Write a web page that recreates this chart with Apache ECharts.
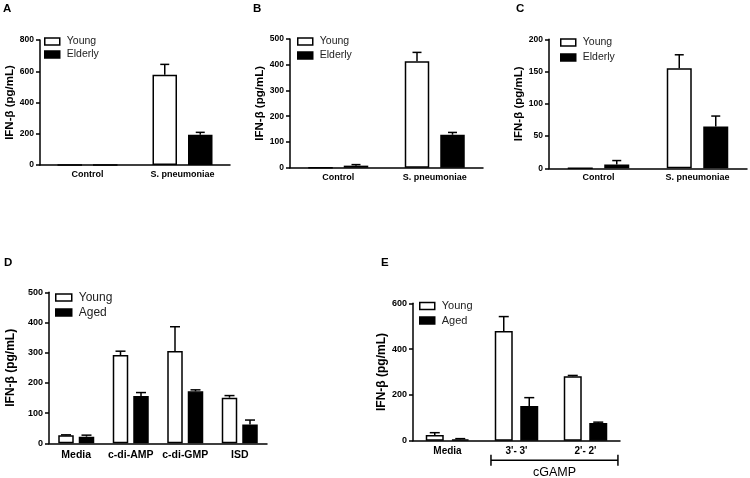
<!DOCTYPE html>
<html>
<head>
<meta charset="utf-8">
<script src="https://cdn.jsdelivr.net/npm/echarts@6/dist/echarts.min.js"></script>
<style>
html,body{margin:0;padding:0;background:#fff;}
#c{width:750px;height:478px;}
</style>
</head>
<body>
<div id="c"></div>
<script>
// ---- data ----
const catsAC = ['Control', 'S. pneumoniae'];
const youngA = [0, 578];   const youngAErr = [0, 66];
const elderA = [0, 194];   const elderAErr = [0, 15];
const youngB = [0, 414];   const youngBErr = [0, 34];
const elderB = [8, 128];   const elderBErr = [4, 9];
const youngC = [0, 155];   const youngCErr = [0, 21];
const elderC = [6, 65];    const elderCErr = [6, 16];

const catsD = ['Media', 'c-di-AMP', 'c-di-GMP', 'ISD'];
const youngD = [27, 292, 306, 151]; const youngDErr = [1, 13, 80, 7];
const agedD = [22, 157, 172, 62];   const agedDErr = [5, 11, 5, 15];

const catsE = ['Media', "3'- 3'", "2'- 2'"];
const youngE = [25, 479, 281]; const youngEErr = [10, 63, 4];
const agedE = [6, 151, 77];    const agedEErr = [3, 37, 4];

const yMax = [800, 500, 200, 500, 600];
const yStep = [200, 100, 50, 100, 200];
const panelLetters = ['A', 'B', 'C', 'D', 'E'];
const yTitle = 'IFN-\u03b2 (pg/mL)';

// ---- layout ----
const FONT = '"Liberation Sans", Arial, sans-serif';
const grids = [
  {left: 40, top: 40, width: 190, height: 125},
  {left: 290, top: 39, width: 193, height: 128.7},
  {left: 549, top: 39.3, width: 198, height: 129},
  {left: 49, top: 292.3, width: 218, height: 151},
  {left: 413, top: 303.3, width: 207, height: 137.4}
];
const barW = [24.5, 24.5, 25, 15.5, 18];
const gapPx = [11, 11, 11.5, 5, 7.5];
const tickFont = [8.5, 8.5, 8.5, 9, 9];
const catFont = [9, 9, 9, 10.5, 10];
const catMargin = [5, 5, 5, 6, 6];
const titleFont = [11.5, 11.5, 11.5, 12, 12];
const titleGap = [24, 24, 24, 32, 25];
const legendPos = [
  {left: 44, top: 36, fs: 10.5, iw: 15, ih: 7, gap: 2, names: ['Young', 'Elderly']},
  {left: 297, top: 36, fs: 10.5, iw: 15, ih: 7, gap: 3, names: ['Young', 'Elderly']},
  {left: 560, top: 37, fs: 10.5, iw: 15, ih: 7, gap: 4, names: ['Young', 'Elderly']},
  {left: 55, top: 291.5, fs: 12, iw: 16, ih: 7, gap: 3, names: ['Young', 'Aged']},
  {left: 419, top: 300.5, fs: 11, iw: 15, ih: 7, gap: 3.5, names: ['Young', 'Aged']}
];
const letterPos = [[3, 3], [253, 3], [516, 3], [4, 257], [381, 257]];

const panels = [
  {cats: catsAC, y: youngA, ye: youngAErr, o: elderA, oe: elderAErr},
  {cats: catsAC, y: youngB, ye: youngBErr, o: elderB, oe: elderBErr},
  {cats: catsAC, y: youngC, ye: youngCErr, o: elderC, oe: elderCErr},
  {cats: catsD, y: youngD, ye: youngDErr, o: agedD, oe: agedDErr},
  {cats: catsE, y: youngE, ye: youngEErr, o: agedE, oe: agedEErr}
];

const option = {
  animation: false,
  backgroundColor: '#fff',
  grid: [], xAxis: [], yAxis: [], series: [], legend: [], graphic: []
};

function errSeries(i, vals, errs, sign) {
  const off = sign * (barW[i] + gapPx[i]) / 2;
  const capW = i >= 3 ? 10 : 9;
  return {
    type: 'custom',
    xAxisIndex: i, yAxisIndex: i,
    silent: true, clip: false, z: 3,
    data: vals.map((v, k) => [k, v, v + errs[k]]),
    renderItem: function (params, api) {
      const v = api.value(1), t = api.value(2);
      if (t <= v) return null;
      const p0 = api.coord([api.value(0), v]);
      const p1 = api.coord([api.value(0), t]);
      const x = p0[0] + off;
      return {
        type: 'group',
        children: [
          {type: 'line', shape: {x1: x, y1: p0[1], x2: x, y2: p1[1]}, style: {stroke: '#000', lineWidth: 1.5}},
          {type: 'line', shape: {x1: x - capW / 2, y1: p1[1], x2: x + capW / 2, y2: p1[1]}, style: {stroke: '#000', lineWidth: 1.5}}
        ]
      };
    }
  };
}

panels.forEach((p, i) => {
  const g = grids[i];
  option.grid.push({left: g.left, top: g.top, width: g.width, height: g.height, containLabel: false});
  option.xAxis.push({
    type: 'category', gridIndex: i, data: p.cats,
    axisLine: {lineStyle: {color: '#000', width: 1.5}},
    axisTick: {show: false},
    axisLabel: {color: '#000', fontFamily: FONT, fontWeight: 'bold', fontSize: catFont[i], margin: catMargin[i], interval: 0}
  });
  option.yAxis.push({
    type: 'value', gridIndex: i, min: 0, max: yMax[i], interval: yStep[i],
    name: yTitle, nameLocation: 'middle', nameGap: titleGap[i],
    nameTextStyle: {color: '#000', fontFamily: FONT, fontWeight: 'bold', fontSize: titleFont[i]},
    axisLine: {show: true, lineStyle: {color: '#000', width: 1.5}},
    axisTick: {show: true, length: 4, lineStyle: {color: '#000', width: 1.5}},
    axisLabel: {color: '#000', fontFamily: FONT, fontWeight: 'bold', fontSize: tickFont[i], margin: 6},
    splitLine: {show: false}
  });
  const names = legendPos[i].names;
  option.series.push({
    type: 'bar', name: names[0], xAxisIndex: i, yAxisIndex: i, data: p.y,
    barWidth: barW[i], barGap: (gapPx[i] / barW[i] * 100) + '%',
    itemStyle: {color: '#fff', borderColor: '#000', borderWidth: 1.5}
  });
  option.series.push({
    type: 'bar', name: names[1], xAxisIndex: i, yAxisIndex: i, data: p.o,
    barWidth: barW[i], barGap: (gapPx[i] / barW[i] * 100) + '%',
    itemStyle: {color: '#000', borderColor: '#000', borderWidth: 1.5}
  });
  option.series.push(errSeries(i, p.y, p.ye, -1));
  option.series.push(errSeries(i, p.o, p.oe, 1));
  const L = legendPos[i];
  option.legend.push({
    left: L.left, top: L.top, orient: 'vertical', itemWidth: L.iw, itemHeight: L.ih,
    itemGap: L.gap, selectedMode: false, padding: 0,
    icon: 'rect',
    textStyle: {color: '#222', fontFamily: FONT, fontSize: L.fs, padding: [0, 0, 0, 2]},
    data: [
      {name: names[0], itemStyle: {color: '#fff', borderColor: '#000', borderWidth: 1.5}},
      {name: names[1], itemStyle: {color: '#000', borderColor: '#000', borderWidth: 1.5}}
    ]
  });
  option.graphic.push({
    type: 'text', left: letterPos[i][0], top: letterPos[i][1],
    style: {text: panelLetters[i], fill: '#000', font: 'bold 11.5px ' + FONT}
  });
});

const chart = echarts.init(document.getElementById('c'), null, {renderer: 'canvas'});
chart.setOption(option);

// cGAMP bracket under panel E, positioned from the axis scale
const c1 = chart.convertToPixel({xAxisIndex: 4, yAxisIndex: 4}, [1, 0]);
const c2 = chart.convertToPixel({xAxisIndex: 4, yAxisIndex: 4}, [2, 0]);
const band = c2[0] - c1[0];
const bx1 = c1[0] - 0.37 * band, bx2 = c2[0] + 0.47 * band, by = c1[1] + 19.5;
chart.setOption({
  graphic: option.graphic.concat([
    {type: 'line', shape: {x1: bx1, y1: by, x2: bx2, y2: by}, style: {stroke: '#000', lineWidth: 1.5}},
    {type: 'line', shape: {x1: bx1, y1: by - 5.5, x2: bx1, y2: by + 5.5}, style: {stroke: '#000', lineWidth: 1.5}},
    {type: 'line', shape: {x1: bx2, y1: by - 5.5, x2: bx2, y2: by + 5.5}, style: {stroke: '#000', lineWidth: 1.5}},
    {type: 'text', x: (bx1 + bx2) / 2, y: by + 12, style: {text: 'cGAMP', fill: '#000', font: '12.5px ' + FONT, textAlign: 'center', textVerticalAlign: 'middle'}}
  ])
});
</script>
</body>
</html>
